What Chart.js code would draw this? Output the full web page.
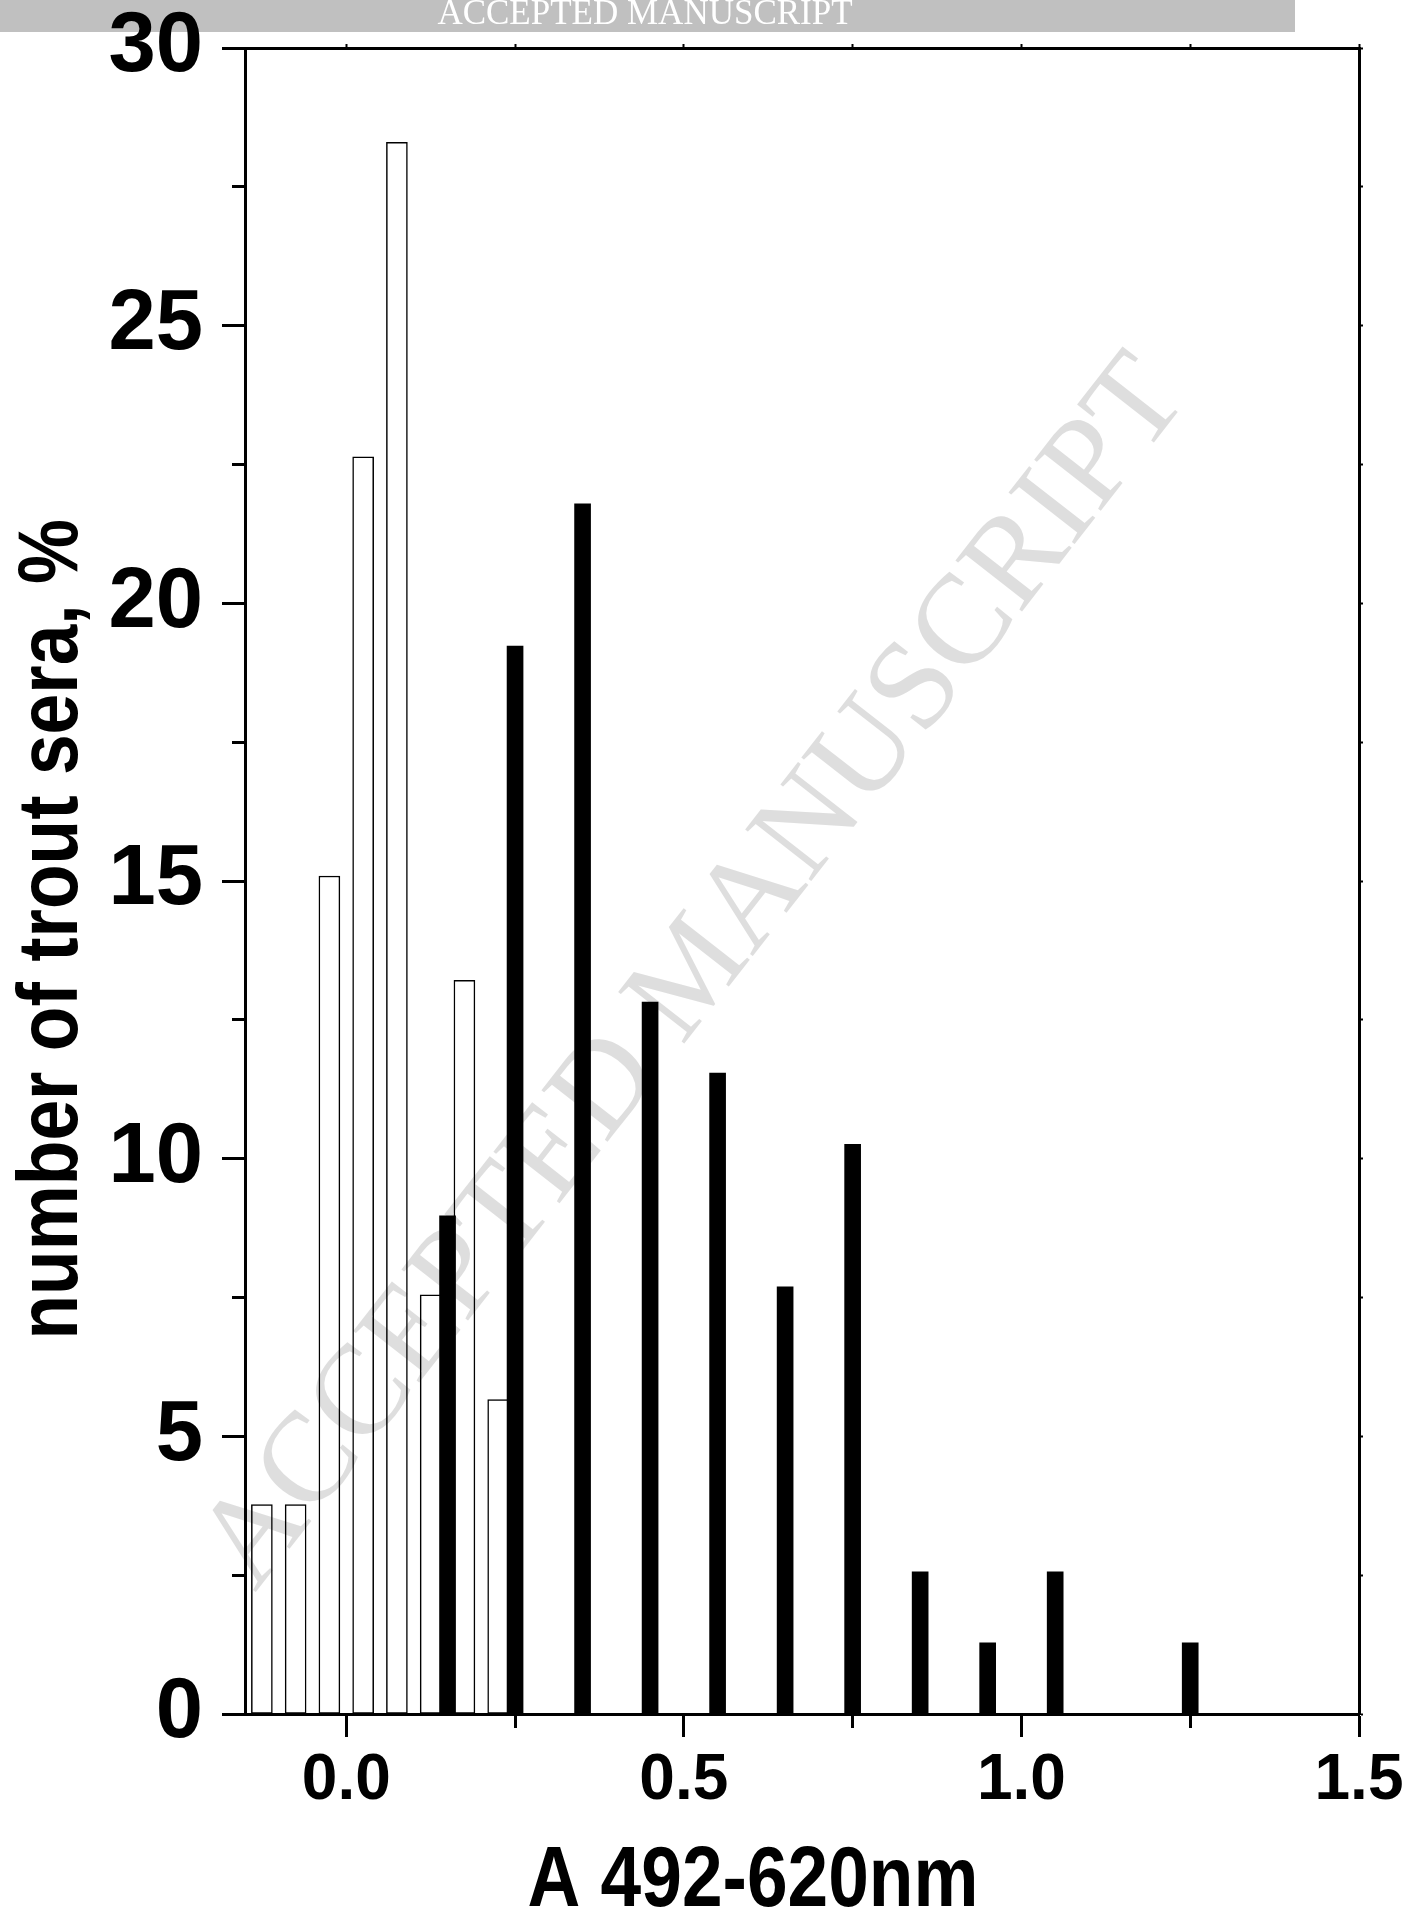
<!DOCTYPE html>
<html lang="en">
<head>
    <meta charset="UTF-8">
    <title>Trout sera absorbance histogram</title>
    <script src="https://cdn.jsdelivr.net/npm/chart.js"></script>
    <style>
        body { margin: 0; background: #fff; }
        .chart-box { width: 1418px; height: 1912px; position: relative; }
    </style>
</head>
<body>
    <div class="chart-box">
        <canvas id="histChart"></canvas>
    </div>
    <script>
        // Data (percent of sera per absorbance bin)
        const negativeBins = [-0.125, -0.075, -0.025, 0.025, 0.075, 0.125, 0.175, 0.225];
        const negativePct = [3.77, 3.77, 15.09, 22.64, 28.30, 7.55, 13.21, 5.66];
        const positiveBins = [0.15, 0.25, 0.35, 0.45, 0.55, 0.65, 0.75, 0.85, 0.95, 1.05, 1.25];
        const positivePct = [8.97, 19.23, 21.79, 12.82, 11.54, 7.69, 10.26, 2.56, 1.28, 2.56, 1.28];
        const xMajorLabels = [0, 0.5, 1.0, 1.5];
        const yMajorLabels = [0, 5, 10, 15, 20, 25, 30];

        const xTitle = 'A 492-620nm';
        const yTitle = 'number of trout sera, %';
        const stampText = 'ACCEPTED MANUSCRIPT';

        const sans = '"Liberation Sans", Arial, sans-serif';
        const serif = '"Liberation Serif", "Times New Roman", serif';

        const isMajor = (v, list) => list.some(m => Math.abs(m - v) < 1e-6);
        // minor ticks are drawn shorter by dashing the tick line
        const minorDash = list => c => (!c.tick || isMajor(c.tick.value, list)) ? [] : [12, 100];
        const minorDashOffset = (list, off) => c => (!c.tick || isMajor(c.tick.value, list)) ? 0 : off;

        // fixed box sizes so the plot area sits where it does in the figure
        const fixBox = (w, h) => s => {
            if (w !== null) s.width = w;
            if (h !== null) s.height = h;
            s.paddingTop = s.paddingBottom = s.paddingLeft = s.paddingRight = 0;
        };

        // background, banner on top, titles and the diagonal watermark
        const decorations = {
            id: 'decorations',
            beforeDraw(chart) {
                const ctx = chart.ctx;
                ctx.save();
                ctx.fillStyle = '#fff';
                ctx.fillRect(0, 0, chart.width, chart.height);
                ctx.fillStyle = '#c0c0c0';
                ctx.fillRect(0, 0, 1295, 32);
                ctx.fillStyle = '#fff';
                ctx.font = '35px ' + serif;
                ctx.textAlign = 'center';
                ctx.textBaseline = 'alphabetic';
                ctx.fillText(stampText, 645, 24);
                ctx.restore();
            },
            afterDraw(chart) {
                const ctx = chart.ctx;
                const a = chart.chartArea;
                ctx.save();
                ctx.fillStyle = '#000';
                ctx.font = 'bold 86px ' + sans;
                ctx.textAlign = 'center';
                ctx.textBaseline = 'alphabetic';
                // the figure uses a condensed bold face
                ctx.save();
                ctx.translate(a.left + (a.right - a.left) * 0.456, chart.height - 6);
                ctx.scale(0.85, 1);
                ctx.fillText(xTitle, 0, 0);
                ctx.restore();
                ctx.translate(77, a.top + (a.bottom - a.top) * 0.529);
                ctx.rotate(-Math.PI / 2);
                ctx.scale(0.85, 1);
                ctx.fillText(yTitle, 0, 0);
                ctx.restore();

                ctx.save();
                ctx.globalCompositeOperation = 'multiply';
                ctx.translate(696, 974);
                ctx.rotate(-52 * Math.PI / 180);
                ctx.font = '128px ' + serif;
                ctx.fillStyle = 'rgb(222,222,222)';
                ctx.textAlign = 'center';
                ctx.textBaseline = 'middle';
                ctx.fillText(stampText, 0, 0);
                ctx.restore();
            }
        };

        const ctx = document.getElementById('histChart').getContext('2d');
        new Chart(ctx, {
            type: 'bar',
            data: {
                datasets: [
                    {
                        label: 'positive',
                        data: positiveBins.map((x, i) => ({ x: x, y: positivePct[i] })),
                        backgroundColor: '#000',
                        borderWidth: 0,
                        barThickness: 16,
                        grouped: false
                    },
                    {
                        label: 'negative',
                        data: negativeBins.map((x, i) => ({ x: x, y: negativePct[i] })),
                        backgroundColor: '#fff',
                        borderColor: '#000',
                        borderWidth: 1.5,
                        borderSkipped: false,
                        barThickness: 21,
                        grouped: false
                    }
                ]
            },
            options: {
                responsive: true,
                maintainAspectRatio: false,
                animation: false,
                layout: { padding: 0 },
                plugins: {
                    legend: { display: false },
                    tooltip: { enabled: false }
                },
                scales: {
                    x: {
                        type: 'linear',
                        position: 'bottom',
                        min: -0.15,
                        max: 1.5,
                        offset: false,
                        afterFit: fixBox(null, 198),
                        border: { display: true, color: '#000', width: 3 },
                        grid: {
                            offset: false,
                            drawOnChartArea: false,
                            tickLength: 23,
                            tickWidth: 3,
                            tickColor: '#000',
                            tickBorderDash: minorDash(xMajorLabels)
                        },
                        ticks: {
                            stepSize: 0.25,
                            includeBounds: false,
                            autoSkip: false,
                            maxRotation: 0,
                            padding: 6,
                            color: '#000',
                            font: { family: sans, size: 64, weight: 'bold' },
                            callback: v => isMajor(v, xMajorLabels) ? v.toFixed(1) : ''
                        }
                    },
                    x2: {
                        type: 'linear',
                        position: 'top',
                        min: -0.15,
                        max: 1.5,
                        offset: false,
                        afterFit: fixBox(null, 48),
                        border: { display: true, color: '#000', width: 3 },
                        grid: { offset: false, drawOnChartArea: false, tickLength: 4, tickWidth: 2, tickColor: '#000' },
                        ticks: { display: false, stepSize: 0.25, includeBounds: false }
                    },
                    y: {
                        position: 'left',
                        min: 0,
                        max: 30,
                        afterFit: fixBox(245, null),
                        border: { display: true, color: '#000', width: 3 },
                        grid: {
                            drawOnChartArea: false,
                            tickLength: 23,
                            tickWidth: 3,
                            tickColor: '#000',
                            tickBorderDash: minorDash(yMajorLabels),
                            tickBorderDashOffset: minorDashOffset(yMajorLabels, 102)
                        },
                        ticks: {
                            stepSize: 2.5,
                            autoSkip: false,
                            padding: 19,
                            color: '#000',
                            font: { family: sans, size: 85, weight: 'bold' },
                            callback: v => isMajor(v, yMajorLabels) ? String(v) : ''
                        }
                    },
                    y2: {
                        position: 'right',
                        min: 0,
                        max: 30,
                        afterFit: fixBox(59, null),
                        border: { display: true, color: '#000', width: 3 },
                        grid: { drawOnChartArea: false, tickLength: 4, tickWidth: 2, tickColor: '#000' },
                        ticks: { display: false, stepSize: 2.5 }
                    }
                }
            },
            plugins: [decorations]
        });
    </script>
</body>
</html>
